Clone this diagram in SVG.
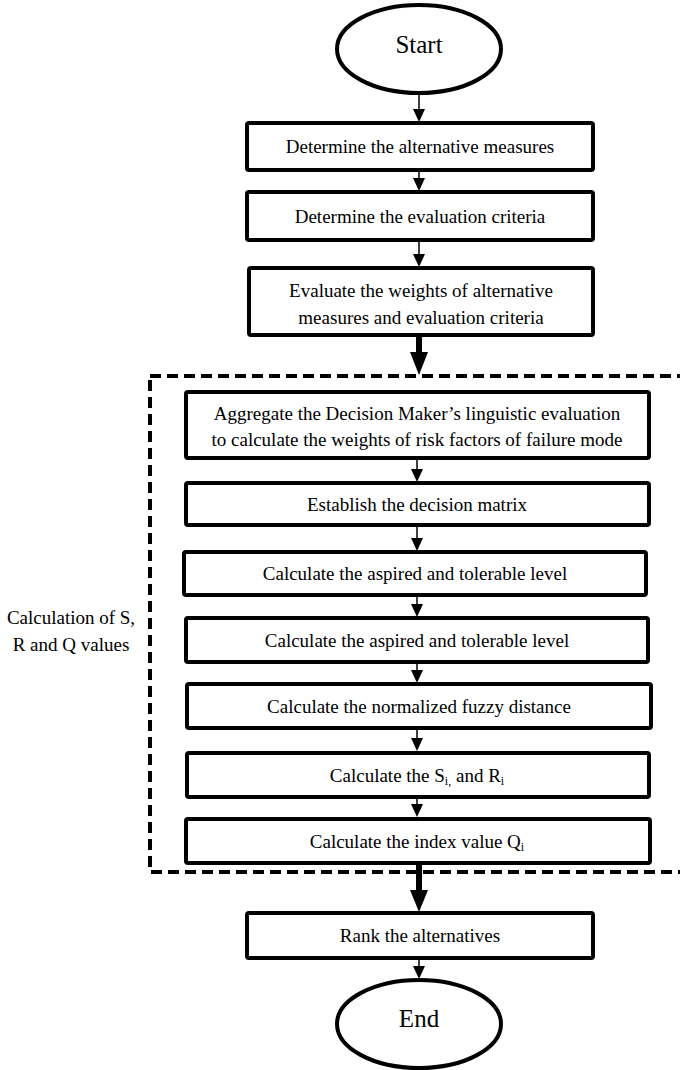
<svg xmlns="http://www.w3.org/2000/svg" width="680" height="1070" viewBox="0 0 680 1070">
<style>
.box{fill:#fff;stroke:#000;stroke-width:4}
.ell{fill:#fff;stroke:#000;stroke-width:4}
.t{font-family:"Liberation Serif","Times New Roman",serif;font-size:19px;fill:#000;text-anchor:middle}
.big{font-size:25px}
.thin{stroke:#000;stroke-width:1.5;fill:none}
.thick{stroke:#000;stroke-width:6;fill:none}
.dash{fill:none;stroke:#000;stroke-width:4;stroke-dasharray:11 6}
.sub{font-size:12px}
</style>
<g id="group-box">
<rect class="dash" x="150" y="376" width="540" height="496"/>
<text class="t" x="71" y="624">Calculation of S,</text>
<text class="t" x="71" y="651">R and Q values</text>
</g>
<g id="connectors">
<line class="thin" x1="419" y1="93" x2="419" y2="109"/><path d="M413,109 L425,109 L419,122 Z"/>
<line class="thin" x1="419" y1="170" x2="419" y2="178"/><path d="M413,178 L425,178 L419,191 Z"/>
<line class="thin" x1="419" y1="240" x2="419" y2="254"/><path d="M413,254 L425,254 L419,267 Z"/>
<line class="thick" x1="419" y1="335" x2="419" y2="352"/><path d="M410,352 L428,352 L419,375 Z"/>
<line class="thin" x1="417" y1="458" x2="417" y2="469"/><path d="M411,469 L423,469 L417,482 Z"/>
<line class="thin" x1="417" y1="525" x2="417" y2="538"/><path d="M411,538 L423,538 L417,551 Z"/>
<line class="thin" x1="417" y1="595" x2="417" y2="604"/><path d="M411,604 L423,604 L417,617 Z"/>
<line class="thin" x1="417" y1="662" x2="417" y2="670"/><path d="M411,670 L423,670 L417,683 Z"/>
<line class="thin" x1="417" y1="728" x2="417" y2="738"/><path d="M411,738 L423,738 L417,751 Z"/>
<line class="thin" x1="417" y1="797" x2="417" y2="804"/><path d="M411,804 L423,804 L417,817 Z"/>
<line class="thick" x1="419" y1="863" x2="419" y2="890"/><path d="M410,890 L428,890 L419,912 Z"/>
<line class="thin" x1="419" y1="958" x2="419" y2="966"/><path d="M413,966 L425,966 L419,979 Z"/>
</g>
<g id="start">
<ellipse class="ell" cx="419" cy="49" rx="82" ry="44"/>
<text class="t big" x="419" y="53">Start</text>
</g>
<g id="n1">
<rect class="box" x="247" y="123" width="346" height="47" rx="2"/>
<text class="t" x="420" y="153">Determine the alternative measures</text>
</g>
<g id="n2">
<rect class="box" x="247" y="192" width="346" height="48" rx="2"/>
<text class="t" x="420" y="223">Determine the evaluation criteria</text>
</g>
<g id="n3">
<rect class="box" x="249" y="268" width="344" height="67" rx="2"/>
<text class="t" x="421" y="297">Evaluate the weights of alternative</text>
<text class="t" x="421" y="324">measures and evaluation criteria</text>
</g>
<g id="n4">
<rect class="box" x="186" y="392" width="463" height="66" rx="2"/>
<text class="t" x="417" y="420">Aggregate the Decision Maker’s linguistic evaluation</text>
<text class="t" x="417" y="446">to calculate the weights of risk factors of failure mode</text>
</g>
<g id="n5">
<rect class="box" x="186" y="483" width="463" height="42" rx="2"/>
<text class="t" x="417" y="511">Establish the decision matrix</text>
</g>
<g id="n6">
<rect class="box" x="184" y="552" width="462" height="43" rx="2"/>
<text class="t" x="415" y="580">Calculate the aspired and tolerable level</text>
</g>
<g id="n7">
<rect class="box" x="186" y="618" width="462" height="44" rx="2"/>
<text class="t" x="417" y="647">Calculate the aspired and tolerable level</text>
</g>
<g id="n8">
<rect class="box" x="187" y="684" width="464" height="44" rx="2"/>
<text class="t" x="419" y="713">Calculate the normalized fuzzy distance</text>
</g>
<g id="n9">
<rect class="box" x="187" y="753" width="462" height="44" rx="2"/>
<text class="t" x="417" y="782">Calculate the S<tspan class="sub" dy="3">i,</tspan><tspan dy="-3"> and R</tspan><tspan class="sub" dy="3">i</tspan></text>
</g>
<g id="n10">
<rect class="box" x="186" y="819" width="464" height="44" rx="2"/>
<text class="t" x="417" y="848">Calculate the index value Q<tspan class="sub" dy="3">i</tspan></text>
</g>
<g id="n11">
<rect class="box" x="247" y="913" width="346" height="45" rx="2"/>
<text class="t" x="420" y="942">Rank the alternatives</text>
</g>
<g id="end">
<ellipse class="ell" cx="419" cy="1024" rx="82" ry="44"/>
<text class="t big" x="419" y="1027">End</text>
</g>
</svg>
